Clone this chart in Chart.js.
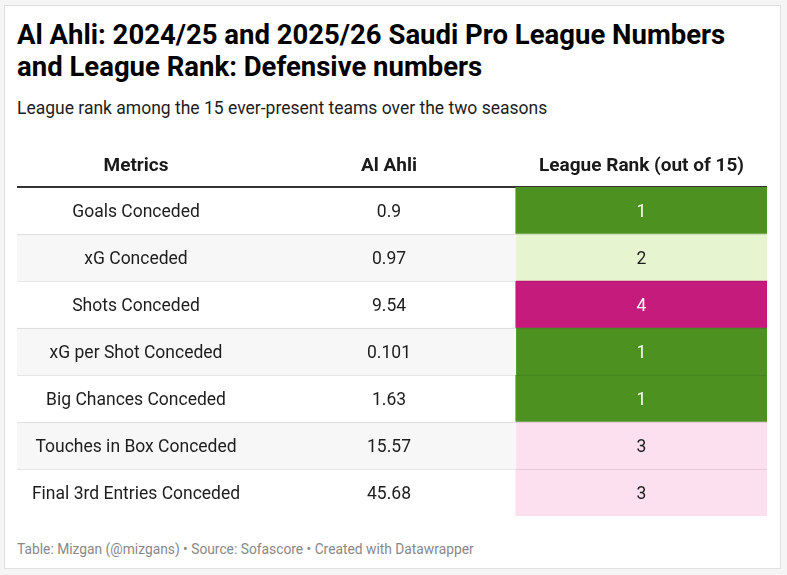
<!DOCTYPE html>
<html lang="en">
<head>
  <meta charset="UTF-8" />
  <title>Al Ahli defensive numbers</title>
  <script src="https://cdn.jsdelivr.net/npm/chart.js"></script>
  <style>
    body { margin: 0; background: #f5f5f5; font-family: Roboto, sans-serif; }
    #card { position: absolute; left: 4px; top: 5px; width: 775px; height: 562px;
            background: #fff; border: 1px solid #e0e0e0; }
    #title { position: absolute; left: 12px; top: 13px; margin: 0; font-size: 27.5px;
             font-weight: 700; line-height: 32px; color: #000; }
    #subtitle { position: absolute; left: 12px; top: 92px; font-size: 17.5px;
                line-height: 20px; color: #1d1d1d; }
    #wrap { position: absolute; left: 12px; top: 134px; width: 750px; height: 376px; }
    #footer { position: absolute; left: 12px; top: 535px; font-size: 13.8px;
              line-height: 16px; color: #888; }
  </style>
</head>
<body>
  <div id="card">
    <h1 id="title">Al Ahli: 2024/25 and 2025/26 Saudi Pro League Numbers<br>and League Rank: Defensive numbers</h1>
    <div id="subtitle">League rank among the 15 ever-present teams over the two seasons</div>
    <div id="wrap"><canvas id="chart"></canvas></div>
    <div id="footer">Table: Mizgan (@mizgans) • Source: Sofascore • Created with Datawrapper</div>
  </div>

  <script>
    // table data
    const headers = ['Metrics', 'Al Ahli', 'League Rank (out of 15)'];
    const metrics = ['Goals Conceded', 'xG Conceded', 'Shots Conceded', 'xG per Shot Conceded',
                     'Big Chances Conceded', 'Touches in Box Conceded', 'Final 3rd Entries Conceded'];
    const values = [0.9, 0.97, 9.54, 0.101, 1.63, 15.57, 45.68];
    const ranks = [1, 2, 4, 1, 1, 3, 3];

    // layout on the x scale (0 = left edge of table, 1 = right edge)
    const colCenters = [0.1587, 0.496, 0.8327];
    const rankStart = 0.665;
    const rankColors = { 1: '#4d9221', 2: '#e6f5d0', 3: '#fde0ef', 4: '#c51b7d' };
    const rankText = { 1: '#fff', 2: '#1d1d1d', 3: '#1d1d1d', 4: '#fff' };

    const cellText = {
      id: 'cellText',
      afterDraw(chart) {
        const { ctx, scales: { x, y } } = chart;
        ctx.save();
        ctx.font = '17.5px Roboto';
        ctx.textAlign = 'center';
        ctx.textBaseline = 'middle';
        metrics.forEach((m, i) => {
          const py = y.getPixelForValue(i) + 2;
          ctx.fillStyle = '#1d1d1d';
          ctx.fillText(m, x.getPixelForValue(colCenters[0]), py);
          ctx.fillText(String(values[i]), x.getPixelForValue(colCenters[1]), py);
          ctx.fillStyle = rankText[ranks[i]];
          ctx.fillText(String(ranks[i]), x.getPixelForValue(colCenters[2]), py);
        });
        ctx.restore();
      }
    };

    const ctx = document.getElementById('chart').getContext('2d');
    const chart = new Chart(ctx, {
      type: 'bar',
      data: {
        labels: metrics,
        datasets: [
          {
            label: 'stripes',
            data: metrics.map((m, i) => i % 2 === 1 ? [0, rankStart] : null),
            backgroundColor: '#f7f7f7',
            grouped: false,
            barPercentage: 1,
            categoryPercentage: 1
          },
          {
            label: 'rank',
            data: ranks.map(() => [rankStart, 1]),
            backgroundColor: ranks.map(r => rankColors[r]),
            grouped: false,
            barPercentage: 1,
            categoryPercentage: 1
          }
        ]
      },
      options: {
        indexAxis: 'y',
        responsive: true,
        maintainAspectRatio: false,
        animation: false,
        events: [],
        layout: { padding: 0 },
        plugins: { legend: { display: false }, tooltip: { enabled: false } },
        scales: {
          x: {
            position: 'top',
            min: 0,
            max: 1,
            afterBuildTicks: s => { s.ticks = colCenters.map(v => ({ value: v })); },
            afterFit: s => { s.height = 47; },
            ticks: {
              autoSkip: false,
              maxRotation: 0,
              padding: 9,
              color: '#1a1a1a',
              font: { family: 'Roboto', size: 19, weight: 'bold' },
              callback: (v, i) => headers[i]
            },
            grid: { display: false, drawTicks: false },
            border: { display: true, color: '#333', width: 2 }
          },
          y: {
            afterFit: s => { s.width = 0; },
            ticks: { display: false },
            border: { display: false },
            grid: {
              offset: true,
              drawTicks: false,
              z: 1,
              color: c => (c.index === 0 || c.index >= metrics.length) ? 'rgba(0,0,0,0)' : 'rgba(0,0,0,0.09)'
            }
          }
        }
      },
      plugins: [cellText]
    });
  </script>
</body>
</html>
